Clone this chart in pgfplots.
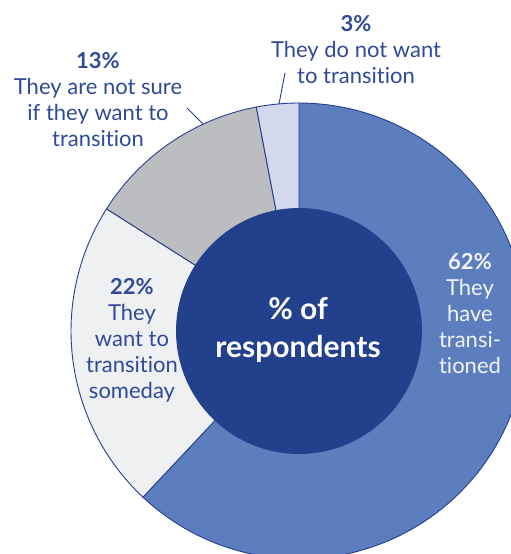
\documentclass[border=0pt]{standalone}
\usepackage{pgfplots}
\pgfplotsset{compat=1.18}
\usepackage{fontspec}
\setmainfont{Lato}[Ligatures={NoCommon,NoContextual}]
\definecolor{navy}{HTML}{23408C}
\definecolor{cA}{HTML}{5D7EBE}
\definecolor{cB}{HTML}{EFF0F2}
\definecolor{cC}{HTML}{BCBDC1}
\definecolor{cD}{HTML}{D4D8EC}
\definecolor{txt}{HTML}{2F4A98}
\definecolor{lite}{HTML}{F2F4FA}
\def\cx{299}\def\cy{331}\def\R{228}\def\ri{123}
% shares in percent
\def\pA{62}\def\pB{22}\def\pC{13}\def\pD{3}
\pgfmathsetmacro\aA{\pA*3.6}
\pgfmathsetmacro\aB{(\pA+\pB)*3.6}
\pgfmathsetmacro\aC{(\pA+\pB+\pC)*3.6}
\pgfmathsetmacro\aD{(\pA+\pB+\pC+\pD)*3.6}
\begin{document}
\begin{tikzpicture}
\begin{axis}[scale only axis, width=511pt, height=554pt,
  xmin=0, xmax=511, ymin=0, ymax=554, y dir=reverse,
  axis line style={draw=none}, xtick=\empty, ytick=\empty,
  clip=true]
\addplot[fill=cA, draw=navy, line width=0.9pt, domain=0:\aA, samples=120, variable=\t]
  ({\cx+\R*sin(t)},{\cy-\R*cos(t)}) -- (axis cs:\cx,\cy) -- cycle;
\addplot[fill=cB, draw=navy, line width=0.9pt, domain=\aA:\aB, samples=60, variable=\t]
  ({\cx+\R*sin(t)},{\cy-\R*cos(t)}) -- (axis cs:\cx,\cy) -- cycle;
\addplot[fill=cC, draw=navy, line width=0.9pt, domain=\aB:\aC, samples=40, variable=\t]
  ({\cx+\R*sin(t)},{\cy-\R*cos(t)}) -- (axis cs:\cx,\cy) -- cycle;
\addplot[fill=cD, draw=navy, line width=0.9pt, domain=\aC:\aD, samples=20, variable=\t]
  ({\cx+\R*sin(t)},{\cy-\R*cos(t)}) -- (axis cs:\cx,\cy) -- cycle;
\addplot[fill=navy, draw=none, domain=0:360, samples=150, variable=\t]
  ({\cx+\ri*sin(t)},{\cy-\ri*cos(t)}) -- cycle;
% leader lines
\addplot[navy, line width=0.9pt] coordinates {(187,108) (203,124)};
\addplot[navy, line width=0.9pt] coordinates {(285,73) (279,104)};
% labels
\node[white, font=\fontsize{30}{38}\selectfont\bfseries, align=center] at (axis cs:298,330) {\% of\\respondents};
\node[txt, font=\fontsize{22}{26}\selectfont, align=center, anchor=north] at (axis cs:98,49) {{\bfseries 13\%}\\They are not sure\\if they want to\\transition};
\node[txt, font=\fontsize{22}{26}\selectfont, align=center, anchor=north] at (axis cs:356,12) {{\bfseries 3\%}\\They do not want\\to transition};
\node[txt, font=\fontsize{22}{26}\selectfont, align=center, anchor=north] at (axis cs:132,275) {{\bfseries 22\%}\\They\\want to\\transition\\someday};
\node[lite, font=\fontsize{22}{26}\selectfont, align=center, anchor=north] at (axis cs:470,250) {{\bfseries 62\%}\\They\\have\\transi-\\tioned};
\end{axis}
\end{tikzpicture}
\end{document}
